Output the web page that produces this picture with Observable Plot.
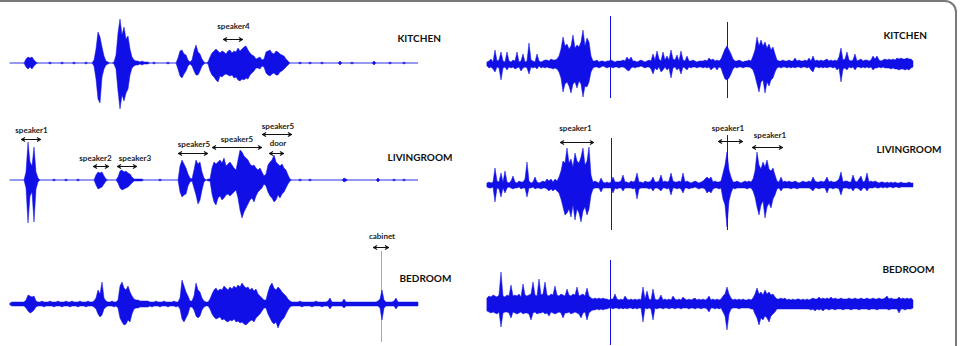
<!DOCTYPE html>
<html><head><meta charset="utf-8">
<script src="https://cdn.jsdelivr.net/npm/d3@7"></script>
<script src="https://cdn.jsdelivr.net/npm/@observablehq/plot@0.6"></script>
<style>
html,body{margin:0;padding:0;background:#fff;}
#fig{position:relative;width:960px;height:346px;overflow:hidden;background:#fff;}
#frame{position:absolute;left:-20px;top:0;width:977px;height:400px;box-sizing:border-box;border:2px solid #7a7a7a;border-radius:0 12px 0 0;}
.panel{position:absolute;}
.panel svg{overflow:visible;}
</style></head><body><div id="fig"><div id="frame"></div></div>
<script>
// Sampling interval of the envelopes (frames per sample)
const STEP = 2;

// ---- Recording A (left column): envelope peaks above / below zero ----
const kitA_hi = [0,0,0,0,0,0,0,0,4,6, 5,6,3,1,0,0,0,0,0,0, 1,0,0,0,0,0,1,0,0,0, 0,0,1,0,0,0,0,0,1,0,
 0,0,3,14,31,26,16,7,2,1, 0,0,1,8,30,44,28,36,24,27, 14,6,3,2,2,1,2,1,1,1, 0,0,1,0,0,0,0,0,0,1,
 0,0,0,0,5,12,13,9,8,3, 1,3,12,18,11,9,4,1,0,1, 6,10,12,14,12,10,12,11,9,12, 13,10,12,11,15,12,14,16,17,13,
 10,8,7,4,5,6,3,4,11,12, 13,10,9,12,11,9,8,7,4,2, 0,0,0,0,0,1,0,0,0,0, 1,0,0,0,0,0,1,0,0,0,
 0,0,0,0,0,2,0,0,0,0, 0,1,0,0,0,0,0,0,0,0, 0,0,2,0,0,0,0,0,0,0, 1,0,0,0,0,0,0,1,0,0, 0,0,0,0,0];
const kitA_lo = [0,0,0,0,0,0,0,0,4,6, 4,6,3,1,0,0,0,0,0,0, 1,0,0,0,0,0,1,0,0,0, 0,0,1,0,0,0,0,0,1,0,
 0,0,3,16,36,40,14,6,2,1, 0,0,1,6,28,46,32,38,30,26, 12,5,3,2,2,1,2,1,1,1, 0,0,1,0,0,0,0,0,0,1,
 0,0,0,0,6,13,15,11,8,3, 1,3,8,12,12,8,3,1,0,1, 8,12,14,17,19,13,14,12,11,12, 13,12,15,14,17,18,16,17,15,16,
 12,10,8,5,5,6,3,4,10,12, 13,11,10,12,12,9,8,6,4,2, 0,0,0,0,0,1,0,0,0,0, 1,0,0,0,0,0,1,0,0,0,
 0,0,0,0,0,2,0,0,0,0, 0,1,0,0,0,0,0,0,0,0, 0,0,2,0,0,0,0,0,0,0, 1,0,0,0,0,0,0,1,0,0, 0,0,0,0,0];

const livA_hi = [0,0,0,0,0,0,0,0,8,38, 18,14,33,8,2,0,0,0,0,0, 0,0,1,0,0,0,0,0,1,0, 0,0,0,0,1,0,0,0,0,0,
 0,0,0,5,8,7,8,4,1,0, 0,0,0,0,3,9,10,8,9,7, 6,3,1,1,1,1,1,0,0,0, 0,0,0,0,0,1,0,0,0,0,
 0,0,0,0,0,14,20,16,12,6, 2,1,10,20,16,18,8,2,0,1, 1,12,18,16,18,20,17,22,14,16, 18,15,12,10,20,30,28,24,22,20,
 16,14,15,12,10,12,8,4,6,15, 18,20,25,18,16,14,16,12,10,5, 1,0,0,0,0,1,0,0,0,0, 1,0,0,0,0,0,0,0,0,0,
 0,0,0,0,0,0,0,2,1,0, 0,0,0,0,0,0,0,0,0,0, 0,0,0,0,2,0,0,0,0,0, 0,0,1,0,0,0,0,1,0,0, 0,0,0,0,0];
const livA_lo = [0,0,0,0,0,0,0,0,8,43, 16,12,42,9,2,0,0,0,0,0, 0,0,1,0,0,0,0,0,1,0, 0,0,0,0,1,0,0,0,0,0,
 0,0,0,5,9,8,7,4,1,0, 0,0,0,0,3,8,10,9,8,7, 5,3,1,1,1,1,1,0,0,0, 0,0,0,0,0,1,0,0,0,0,
 0,0,0,0,0,12,17,15,14,6, 2,1,8,15,24,20,10,2,0,1, 1,14,22,25,18,16,20,18,15,14, 16,14,12,10,18,30,38,32,28,24,
 20,18,22,16,12,10,8,4,6,12, 16,18,22,20,15,18,14,12,8,4, 1,0,0,0,0,1,0,0,0,0, 1,0,0,0,0,0,0,0,0,0,
 0,0,0,0,0,0,0,2,1,0, 0,0,0,0,0,0,0,0,0,0, 0,0,0,0,2,0,0,0,0,0, 0,0,1,0,0,0,0,1,0,0, 0,0,0,0,0];

const bedA_hi = [1,2,2,2,2,2,2,2,4,9, 8,7,8,3,2,2,3,2,2,2, 3,2,2,2,3,2,2,2,3,2, 2,3,2,2,2,3,2,2,2,3,
 2,2,3,6,14,10,22,6,3,2, 2,3,2,2,4,18,22,16,14,18, 12,8,5,4,4,3,3,3,3,3, 2,2,2,3,2,2,2,3,2,2,
 2,2,3,2,2,6,24,18,12,8, 3,3,8,21,14,12,6,3,2,2, 5,10,14,16,13,15,14,18,16,14, 17,15,18,16,19,17,21,18,16,17,
 14,16,13,15,10,8,6,4,4,12, 18,21,16,14,17,15,12,10,8,5, 3,2,2,2,2,3,2,2,2,2, 2,2,2,3,2,2,2,2,2,3,
 6,2,2,2,2,2,2,5,2,2, 2,2,2,2,2,2,2,2,2,2, 2,2,2,2,3,5,14,4,2,2, 2,2,3,6,2,2,2,2,2,2, 2,2,2,2,2];
const bedA_lo = [1,2,2,2,2,2,2,2,4,7, 9,8,6,3,2,2,2,3,2,2, 2,2,3,2,2,2,3,2,2,2, 3,2,2,2,3,2,2,2,3,2,
 2,2,3,5,10,13,11,5,3,2, 2,2,3,2,4,14,18,21,20,16, 18,10,5,4,4,3,3,3,3,3, 2,3,2,2,2,3,2,2,2,3,
 2,2,2,3,2,5,15,18,14,10, 3,3,6,12,14,12,6,3,2,2, 5,10,13,15,14,13,16,15,17,18, 16,17,15,18,17,19,18,20,21,19,
 17,16,18,14,12,10,7,4,4,10, 14,18,20,18,24,19,16,14,10,6, 3,2,2,2,2,2,3,2,2,2, 2,3,2,2,2,2,3,2,2,2,
 5,2,2,2,2,2,2,4,2,2, 2,2,2,2,2,2,2,2,2,2, 2,2,2,2,2,4,16,4,2,2, 2,2,2,5,2,2,2,2,2,2, 2,2,2,2,2];

// ---- Recording B (right column) ----
const kitB_hi = [2,3,5,2,14,3,4,12,3,2, 12,3,2,4,3,12,2,3,10,2, 3,21,4,3,2,10,3,2,3,4, 4,3,5,4,4,5,8,15,27,18,
 20,15,18,29,16,19,17,22,34,18, 26,22,8,3,3,4,2,3,3,2, 3,3,4,3,2,3,3,3,4,3, 7,4,7,3,3,2,3,4,3,2,
 3,4,3,10,4,13,5,3,12,4, 8,4,14,5,4,9,3,13,4,3, 8,3,3,4,3,2,3,3,3,4, 3,6,4,5,3,4,3,5,10,15,
 18,14,10,5,3,3,4,3,2,3, 3,4,3,8,14,27,18,24,18,22, 16,20,14,17,10,4,3,3,4,3, 3,4,3,3,6,3,4,3,3,4,
 3,6,3,8,3,4,3,4,3,4, 5,3,4,3,4,3,7,16,4,5, 12,4,3,4,10,3,4,5,3,4, 4,3,4,8,5,8,4,3,4,5,
 4,5,4,5,4,6,5,6,5,5, 6,5,5,3];
const kitB_lo = [2,4,3,5,8,3,4,16,4,3, 6,3,4,3,5,4,3,7,4,3, 4,10,3,4,3,5,2,4,3,4, 3,4,4,5,4,5,8,14,28,20,
 18,22,29,20,18,24,17,20,33,22, 23,18,8,4,3,3,4,3,2,3, 4,3,3,4,3,3,4,3,3,4, 6,7,4,3,4,3,3,2,3,4,
 3,3,5,10,4,6,3,8,6,3, 6,4,14,4,3,6,4,10,3,4, 6,3,4,3,3,4,3,3,4,3, 4,3,6,4,3,6,3,4,10,15,
 16,14,10,5,3,4,3,3,4,3, 3,3,4,6,12,20,28,18,16,29, 18,22,16,14,8,4,3,4,3,3, 4,3,4,3,4,3,3,4,3,3,
 4,3,6,8,3,3,4,3,4,3, 4,3,3,4,3,6,4,18,5,4, 6,3,4,3,6,3,3,4,3,4, 3,4,3,6,4,4,3,4,3,4,
 4,4,5,4,5,5,6,5,5,6, 5,6,4,3];
const kitB_spikes = [[123,48,34],[240,42,34]];

const livB_hi = [2,3,2,3,17,4,3,12,3,14, 3,2,4,9,3,2,4,3,3,6, 23,4,2,3,8,3,2,3,4,3, 6,4,6,3,6,4,8,14,24,22,
 37,22,26,18,32,24,22,28,37,20, 24,38,10,3,4,3,2,7,3,2, 3,2,3,8,3,3,3,4,10,3, 3,2,4,3,4,12,3,3,2,4,
 3,3,4,8,3,3,4,10,3,4, 3,4,12,4,3,3,4,3,12,3, 4,3,2,3,4,3,2,3,4,6, 8,6,8,3,4,3,3,4,12,20,
 33,15,8,3,3,4,3,2,3,4, 3,4,3,6,14,33,20,16,23,18, 25,16,14,17,10,4,3,8,3,4, 3,4,3,3,4,3,2,3,4,3,
 3,4,3,8,4,3,3,4,3,4, 8,3,4,3,3,4,6,13,3,4, 4,3,3,10,4,3,6,9,3,4, 12,3,4,3,4,3,2,3,3,2,
 3,2,3,2,3,2,2,3,2,2, 2,3,2,2];
const livB_lo = [2,3,3,2,17,3,4,12,3,8, 3,2,3,4,3,3,2,4,3,3, 12,3,3,2,4,3,3,4,3,3, 4,6,4,6,4,6,8,14,22,30,
 28,24,32,20,35,24,28,37,26,22, 30,24,10,4,3,3,3,7,3,3, 3,3,3,8,3,4,3,3,6,3, 3,3,3,4,3,14,4,3,3,3,
 3,4,3,6,3,3,4,6,3,3, 4,3,10,3,3,4,3,4,8,3, 3,4,3,3,2,3,4,3,3,4, 8,6,8,4,3,3,4,3,14,20,
 42,16,8,3,4,3,3,3,3,3, 4,3,3,6,12,22,30,20,16,33, 22,18,23,14,10,4,3,6,3,3, 3,3,4,3,3,4,3,3,3,3,
 3,3,4,6,3,3,4,3,3,3, 8,3,3,4,3,3,4,10,3,3, 3,4,3,6,3,3,4,6,3,3, 6,3,3,3,2,3,3,2,3,2,
 3,2,2,3,2,2,3,2,2,2, 2,2,2,2];
const livB_spikes = [[124,47,45],[240,50,45]];

const bedB_hi = [6,8,7,9,8,7,9,32,8,7, 9,8,19,8,9,8,10,7,20,9, 8,9,10,22,9,8,25,9,10,22, 9,8,10,9,18,9,8,10,9,8,
 15,9,8,10,9,17,8,9,10,8, 16,8,6,5,6,5,6,5,6,5, 5,4,5,5,10,5,4,5,4,8, 5,4,5,4,5,4,5,4,17,5,
 13,5,4,15,5,4,5,9,4,5, 4,5,4,8,5,4,5,4,7,5, 4,5,4,5,6,4,5,4,5,4, 5,8,4,5,4,5,4,5,8,10,
 17,10,6,4,5,4,5,4,5,4, 4,5,4,6,10,16,10,12,9,14, 10,12,9,10,7,5,5,6,5,6, 4,5,4,5,4,5,5,4,5,4,
 5,4,5,6,5,5,7,5,6,5, 6,5,7,5,6,5,5,6,5,5, 5,6,5,5,6,5,5,6,5,5, 6,5,5,6,5,5,6,5,5,6,
 8,5,6,5,5,5,7,5,6,5, 6,5,6,4];
const bedB_lo = [7,8,9,8,9,10,8,23,9,8, 8,9,14,8,9,10,9,8,10,9, 9,10,16,9,8,10,9,9,8,10, 9,12,8,9,10,9,8,9,14,9,
 9,8,10,9,8,9,10,14,9,8, 16,9,7,6,6,5,6,5,6,5, 5,4,4,5,4,4,5,4,5,4, 5,4,4,5,4,5,4,4,18,4,
 5,4,5,16,4,5,4,4,5,4, 4,5,4,4,5,4,4,5,4,4, 4,5,4,4,5,4,4,5,4,4, 5,8,4,4,5,4,5,4,8,12,
 26,10,5,4,4,4,5,4,4,4, 4,4,5,5,10,14,21,14,16,12, 14,18,12,10,8,5,5,5,5,5, 5,5,5,5,5,5,5,5,5,5,
 5,5,6,5,7,5,6,5,7,5, 5,6,5,5,6,5,5,5,6,5, 5,5,6,5,5,5,6,5,5,5, 5,6,5,5,5,6,5,5,5,5,
 5,6,5,5,5,5,9,5,5,6, 5,5,5,4];
const bedB_spikes = [[123,44,41]];

// ---- Annotations: event spans (frames) ----
const annKitA = [{label:"speaker4", t1:213, t2:232, level:24, tx:223, ty:37}];
const annLivA = [
  {label:"speaker1", t1:11, t2:30, level:41, tx:21, ty:50},
  {label:"speaker2", t1:83, t2:98, level:14, tx:85, ty:22},
  {label:"speaker3", t1:107, t2:126, level:14, tx:124.5, ty:22},
  {label:"speaker5", t1:168, t2:197, level:27, tx:183.5, ty:36},
  {label:"speaker5", t1:202, t2:251, level:33, tx:226.5, ty:41},
  {label:"speaker5", t1:252, t2:281, level:46, tx:267.5, ty:54},
  {label:"door", t1:259, t2:273, level:27, tx:267.5, ty:37}
];
const annBedA = [{label:"cabinet", t1:363, t2:378, level:57, tx:371.5, ty:68}];
const markerBedA = [{t:371, lo:38, hi:53}];
const annLivB = [
  {label:"speaker1", t1:73, t2:106, level:43, tx:88, ty:57},
  {label:"speaker1", t1:231, t2:255, level:44, tx:240.5, ty:57},
  {label:"speaker1", t1:265, t2:295, level:38, tx:282.5, ty:50}
];

// Room labels
const roomLabels = ["KITCHEN", "LIVINGROOM", "BEDROOM"];

// ---- Layout ----
const BLUE = "#1010e6";
const colA = {left:0, ml:10, span:408, tops:[3,120,244], label:[{t:387,y:25},{t:377,y:23},{t:389,y:26}]};
const colB = {left:480, ml:7, span:426, tops:[4,125,244], label:[{t:396,y:29},{t:389,y:36},{t:395,y:35}]};

const fig = document.getElementById("fig");

function panel(col, row, hi, lo, spikes, ann, markers) {
  const samples = hi.map((h, i) => ({t: i * STEP, hi: h, lo: lo[i]}));
  const spk = spikes.map(([t, h, l]) => ({t, hi: h, lo: l}));
  const lab = [{...col.label[row], text: roomLabels[row]}];
  const chart = Plot.plot({
    width: 480, height: 120,
    marginLeft: col.ml, marginRight: 480 - col.ml - col.span, marginTop: 0, marginBottom: 0,
    x: {domain: [0, col.span], axis: null},
    y: {domain: [-60, 60], axis: null},
    style: {overflow: "visible", background: "transparent", fontFamily: "Lato, 'Open Sans', sans-serif"},
    marks: [
      Plot.ruleX(markers, {x: "t", y1: d => -d.lo, y2: "hi", stroke: "#a8a8a8", strokeWidth: 1}),
      Plot.areaY(samples, {x: "t", y1: d => -d.lo, y2: "hi", fill: BLUE, stroke: BLUE, strokeWidth: 0.5, curve: "linear"}),
      Plot.ruleX(spk, {x: "t", y1: d => -d.lo, y2: "hi", stroke: BLUE, strokeWidth: 1}),
      Plot.arrow(ann, {x1: "t1", x2: "t2", y1: "level", y2: "level", bend: 0, headLength: 5, stroke: "#111", strokeWidth: 1.1}),
      Plot.arrow(ann, {x1: "t2", x2: "t1", y1: "level", y2: "level", bend: 0, headLength: 5, stroke: "#111", strokeWidth: 1.1}),
      Plot.text(ann, {x: "tx", y: "ty", text: "label", fontSize: 8, fontWeight: "bold", fill: "#222"}),
      Plot.text(lab, {x: "t", y: "y", text: "text", textAnchor: "start", fontSize: 10, fontWeight: "bold", fill: "#111"})
    ]
  });
  const div = document.createElement("div");
  div.className = "panel";
  div.style.left = col.left + "px";
  div.style.top = col.tops[row] + "px";
  div.appendChild(chart);
  fig.appendChild(div);
}

panel(colA, 0, kitA_hi, kitA_lo, [], annKitA, []);
panel(colA, 1, livA_hi, livA_lo, [], annLivA, []);
panel(colA, 2, bedA_hi, bedA_lo, [], annBedA, markerBedA);
panel(colB, 0, kitB_hi, kitB_lo, kitB_spikes, [], []);
panel(colB, 1, livB_hi, livB_lo, livB_spikes, annLivB, []);
panel(colB, 2, bedB_hi, bedB_lo, bedB_spikes, [], []);
</script></body></html>
